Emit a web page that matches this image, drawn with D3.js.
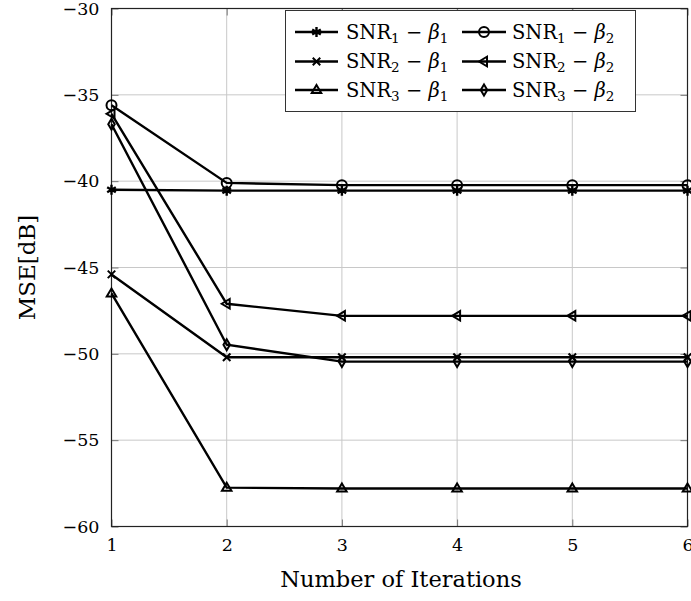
<!DOCTYPE html>
<html><head><meta charset="utf-8">
<script src="https://cdn.jsdelivr.net/npm/d3@7"></script>
<style>body{margin:0;background:#fff}svg{display:block}text{font-family:"DejaVu Serif",serif;fill:#000}</style>
</head><body><svg id="c" width="691" height="601"></svg>
<script>
const iterations = [1, 2, 3, 4, 5, 6];
const snr1beta1 = [-40.5, -40.55, -40.55, -40.55, -40.55, -40.55];
const snr1beta2 = [-35.6, -40.1, -40.23, -40.23, -40.23, -40.23];
const snr2beta1 = [-45.4, -50.2, -50.2, -50.2, -50.2, -50.2];
const snr2beta2 = [-36.1, -47.1, -47.8, -47.8, -47.8, -47.8];
const snr3beta1 = [-46.5, -57.75, -57.8, -57.8, -57.8, -57.8];
const snr3beta2 = [-36.7, -49.47, -50.45, -50.45, -50.45, -50.45];
const xTicks = [1, 2, 3, 4, 5, 6];
const yTicks = [-60, -55, -50, -45, -40, -35, -30];
const seriesNames = [["1","1"],["2","1"],["3","1"],["1","2"],["2","2"],["3","2"]];

const series = [
  {v: snr1beta1, m: "star", n: seriesNames[0]},
  {v: snr2beta1, m: "x", n: seriesNames[1]},
  {v: snr3beta1, m: "tri", n: seriesNames[2]},
  {v: snr1beta2, m: "circle", n: seriesNames[3]},
  {v: snr2beta2, m: "triL", n: seriesNames[4]},
  {v: snr3beta2, m: "diamond", n: seriesNames[5]}
];

const FONT = '"DejaVu Serif", serif';
const svg = d3.select("#c");
const L = 111.5, R = 687.5, T = 8.5, B = 526.5;
const x = d3.scaleLinear().domain([1, 6]).range([L, R]);
const y = d3.scaleLinear().domain([-60, -30]).range([B, T]);

// grid
const g = svg.append("g");
g.selectAll(".gx").data(xTicks).join("line")
  .attr("x1", d => x(d)).attr("x2", d => x(d)).attr("y1", T).attr("y2", B)
  .attr("stroke", "#c8c8c8").attr("stroke-width", 1);
g.selectAll(".gy").data(yTicks).join("line")
  .attr("y1", d => y(d)).attr("y2", d => y(d)).attr("x1", L).attr("x2", R)
  .attr("stroke", "#c8c8c8").attr("stroke-width", 1);

// axes with inner ticks
const ax = d3.axisBottom(x).tickValues(xTicks).tickSize(-7).tickPadding(12).tickFormat(d3.format("d"));
const ay = d3.axisLeft(y).tickValues(yTicks).tickSize(-7).tickPadding(12).tickFormat(d => "\u2212" + Math.abs(d));
const axT = d3.axisTop(x).tickValues(xTicks).tickSize(-7).tickFormat("");
const ayR = d3.axisRight(y).tickValues(yTicks).tickSize(-7).tickFormat("");
function styleAxis(sel){
  sel.attr("font-family", FONT).attr("font-size", 17.5);
  sel.select(".domain").remove();
  sel.selectAll(".tick line").attr("stroke", "#777").attr("stroke-width", 1);
  sel.selectAll(".tick text").attr("font-family", FONT).attr("font-size", 17.5).attr("fill", "#000");
}
svg.append("g").attr("transform", `translate(0,${B})`).call(ax).call(styleAxis);
svg.append("g").attr("transform", `translate(${L},0)`).call(ay).call(styleAxis);
svg.append("g").attr("transform", `translate(0,${T})`).call(axT).call(styleAxis);
svg.append("g").attr("transform", `translate(${R},0)`).call(ayR).call(styleAxis);

// frame
svg.append("rect").attr("x", L).attr("y", T).attr("width", R - L).attr("height", B - T)
  .attr("fill", "none").attr("stroke", "#222").attr("stroke-width", 1.2);

// markers
function marker(sel, type, cx, cy) {
  const s = 5;
  const gg = sel.append("g").attr("transform", `translate(${cx},${cy})`)
    .attr("stroke", "#000").attr("stroke-width", 2).attr("fill", "none");
  if (type === "circle") gg.append("circle").attr("r", s);
  else if (type === "tri") gg.append("path").attr("d", `M0,${-s} L${s*0.95},${s*0.6} L${-s*0.95},${s*0.6}Z`);
  else if (type === "triL") gg.append("path").attr("d", `M${-s},0 L${s*0.6},${-s*0.95} L${s*0.6},${s*0.95}Z`);
  else if (type === "diamond") gg.append("path").attr("d", `M0,${-s*1.1} L${s*0.65},0 L0,${s*1.1} L${-s*0.65},0Z`);
  else if (type === "x") gg.append("path").attr("d", `M${-s*0.75},${-s*0.75}L${s*0.75},${s*0.75}M${-s*0.75},${s*0.75}L${s*0.75},${-s*0.75}`);
  else if (type === "star") {
    let d = "";
    for (let k = 0; k < 3; k++) {
      const a = Math.PI / 2 + k * Math.PI / 3;
      d += `M${s*Math.cos(a)},${-s*Math.sin(a)}L${-s*Math.cos(a)},${s*Math.sin(a)}`;
    }
    gg.append("path").attr("d", d).attr("stroke-width", 2.4);
  }
}

const line = d3.line().x((d, i) => x(iterations[i])).y(d => y(d));
const plot = svg.append("g");
series.forEach(s => {
  plot.append("path").attr("d", line(s.v)).attr("fill", "none").attr("stroke", "#000").attr("stroke-width", 2.4);
  s.v.forEach((v, i) => marker(plot, s.m, x(iterations[i]), y(v)));
});

// legend
const lg = svg.append("g");
lg.append("rect").attr("x", 285.5).attr("y", 10.5).attr("width", 350).attr("height", 101)
  .attr("fill", "#fff").attr("stroke", "#333").attr("stroke-width", 1);
const rows = [32, 61.5, 90];
const cols = [[295, 338, 346], [462, 506, 512]];
series.forEach((s, k) => {
  const c = cols[Math.floor(k / 3)], r = rows[k % 3];
  lg.append("line").attr("x1", c[0]).attr("x2", c[1]).attr("y1", r).attr("y2", r)
    .attr("stroke", "#000").attr("stroke-width", 2.4);
  marker(lg, s.m, (c[0] + c[1]) / 2, r);
  const t = lg.append("text").attr("x", c[2]).attr("y", r + 6.5).attr("font-size", 19.5);
  t.append("tspan").text("SNR");
  t.append("tspan").attr("font-size", 13.5).attr("dy", 4).text(s.n[0]);
  t.append("tspan").attr("dy", -4).text(" \u2212 ");
  t.append("tspan").attr("font-style", "italic").text("\u03B2");
  t.append("tspan").attr("font-size", 13.5).attr("dy", 4).text(s.n[1]);
});

// axis titles
svg.append("text").attr("x", 401).attr("y", 587).attr("text-anchor", "middle")
  .attr("font-size", 22.5).text("Number of Iterations");
svg.append("text").attr("transform", `translate(35,${(T + B) / 2}) rotate(-90)`).attr("text-anchor", "middle")
  .attr("font-size", 23).text("MSE[dB]");
</script></body></html>
